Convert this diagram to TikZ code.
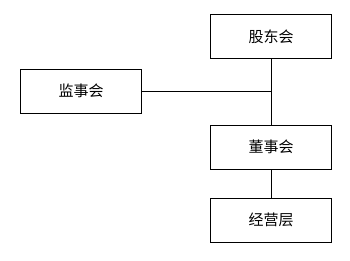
\documentclass[tikz,border=0pt]{standalone}
\usepackage{fontspec}
\newfontfamily\cjk{Noto Sans CJK SC}
\begin{document}
\begin{tikzpicture}[
    x = 1pt, y = -1pt,
    caja/.style = {
        draw,
        line width    = 0.9pt,
        minimum width = 121pt,
        minimum height= 44pt,
        inner sep     = 0pt,
        font          = \cjk\fontsize{15pt}{17pt}\selectfont
    },
    enlace/.style = {
        line width = 0.9pt
    }
]

% ================================================================
%  MARCO (350 x 260)
% ================================================================

\useasboundingbox (0, 0) rectangle (350, 260);

% ================================================================
%  CAJAS
% ================================================================

\node[caja] (gudong)   at (271, 36.5)  {股东会};
\node[caja] (jianshi)  at (81, 91.3)   {监事会};
\node[caja] (dongshi)  at (271, 147.3) {董事会};
\node[caja] (jingying) at (271, 220.3) {经营层};

% ================================================================
%  ENLACES
% ================================================================

\coordinate (cruce) at (jianshi.east -| gudong.south);

\draw[enlace] (gudong.south)  -- (dongshi.north);
\draw[enlace] (jianshi.east)  -- (cruce);
\draw[enlace] (dongshi.south) -- (jingying.north);

\end{tikzpicture}
\end{document}
